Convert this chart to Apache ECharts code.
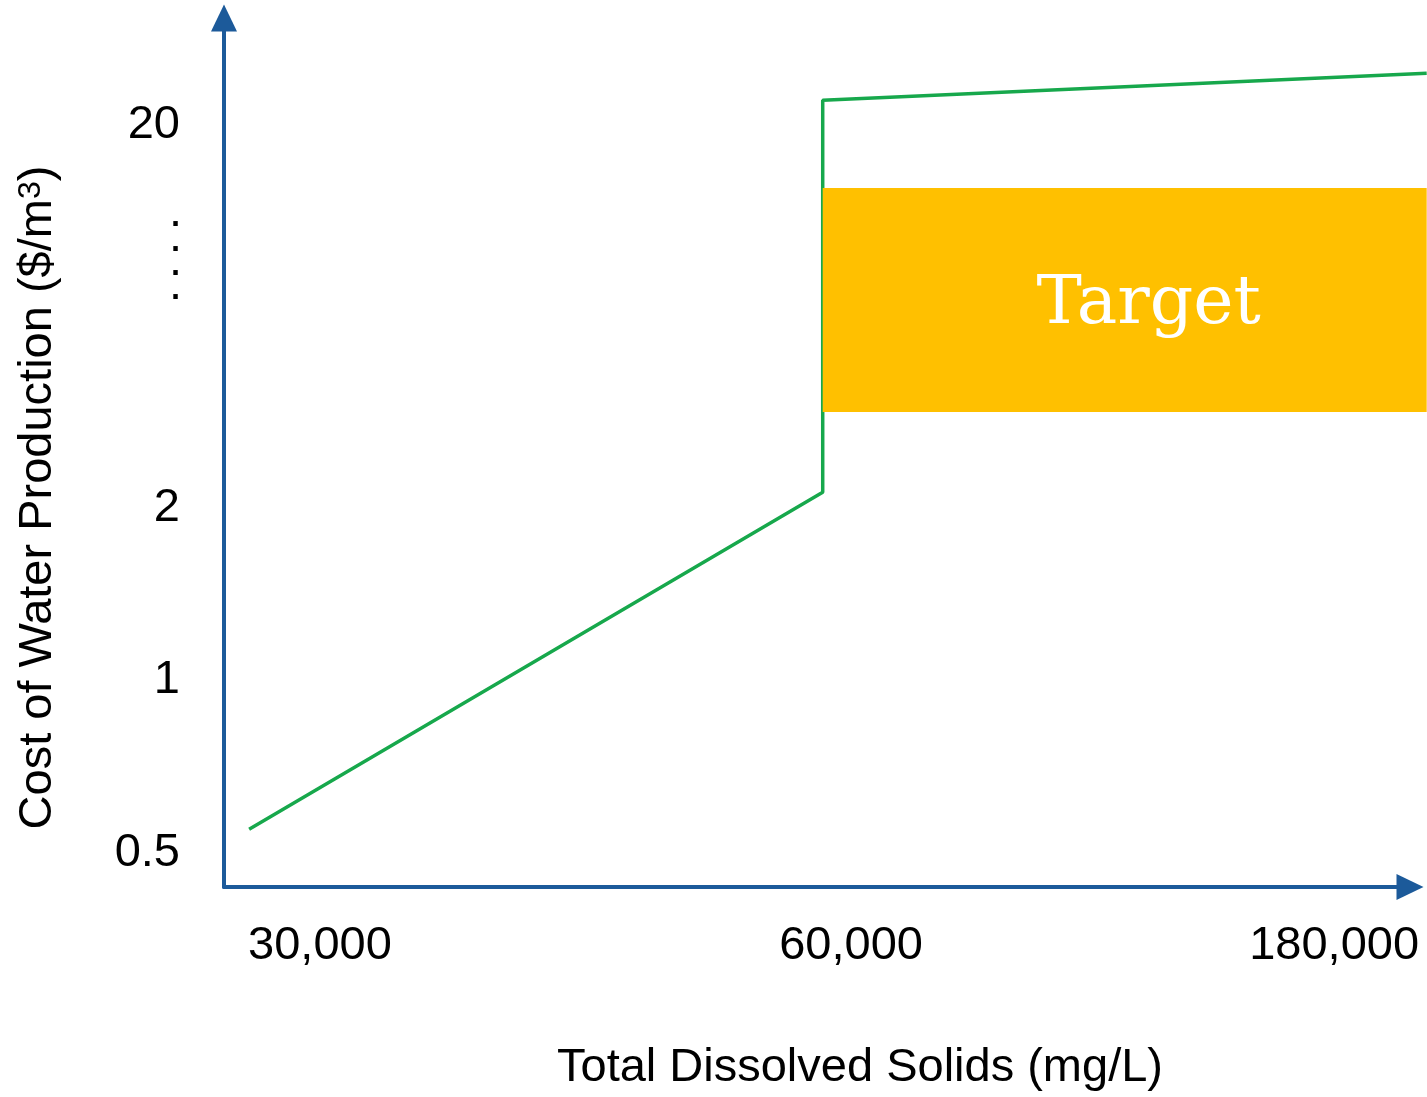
<!DOCTYPE html>
<html>
<head>
<meta charset="utf-8">
<title>Cost of Water Production vs TDS</title>
<script src="https://cdn.jsdelivr.net/npm/echarts@6/dist/echarts.min.js"></script>
<style>
  html, body { margin: 0; padding: 0; background: #fff; }
  #container { width: 1427px; height: 1097px; }
</style>
</head>
<body>
<div id="container"></div>
<script>
// tick labels of the two broken (schematic) axes
const xTicks = [30000, 60000, 180000];
const xTickLabels = ["30,000", "60,000", "180,000"];
const yTicks = [0.5, 1, 2, 20];
const yTickLabels = ["0.5", "1", "2", "20"];

// cost curve, TDS (mg/L) -> $/m3
const costTds = [26000, 58400, 58400, 203000];
const costValue = [0.55, 2.2, 23.2, 27.3];

// target band
const targetTds = [58400, 203000];
const targetCost = [3.56, 13.7];

// where each tick sits along its axis (0..100 of the axis length)
const xTickAt = [8.09, 52.87, 93.6];
const yTickAt = [3.91, 23.82, 43.61, 87.69];

const BLUE = "#1c5a9a";
const GREEN = "#17a84c";
const GOLD = "#ffc000";
const FONT = "Liberation Sans";

// piecewise interpolation between ticks, extrapolating the end segments
function piecewise(v, knots, at, f) {
  let i = 0;
  while (i < knots.length - 2 && v > knots[i + 1]) i++;
  const a = f(knots[i]), b = f(knots[i + 1]);
  return at[i] + (f(v) - a) / (b - a) * (at[i + 1] - at[i]);
}
const xPos = (v) => piecewise(v, xTicks, xTickAt, (t) => t);
const yPos = (v) => piecewise(v, yTicks, yTickAt, Math.log);

function nearestLabel(v, ticks, labels, pos) {
  let best = 0;
  ticks.forEach((t, i) => {
    if (Math.abs(pos(t) - v) < Math.abs(pos(ticks[best]) - v)) best = i;
  });
  return labels[best];
}

const dom = document.getElementById("container");
const myChart = echarts.init(dom, null, { renderer: "canvas" });

// the drawn x axis stops at the arrow, the curve and band run on to the page edge
const axisRight = 17;
const plotWidth = 1427 - 224 - axisRight;
const dataMax = 100 * (plotWidth + axisRight) / plotWidth;

const axisLine = {
  lineStyle: { color: BLUE, width: 4 },
  symbol: ["none", "triangle"],
  symbolSize: [26, 27]
};

const option = {
  animation: false,
  grid: [
    { left: 224, right: axisRight, top: 18, bottom: 210 },
    { left: 224, right: 0, top: 18, bottom: 210 }
  ],
  xAxis: [
    {
      type: "value",
      gridIndex: 0,
      min: 0,
      max: 100,
      name: "Total Dissolved Solids (mg/L)",
      nameLocation: "middle",
      nameGap: 158,
      nameTextStyle: {
        fontFamily: FONT, fontSize: 47, color: "#000",
        padding: [0, 0, 0, 86]
      },
      axisLine: axisLine,
      axisTick: { show: false },
      splitLine: { show: false },
      axisLabel: {
        customValues: xTicks.map(xPos),
        margin: 36,
        fontFamily: FONT, fontSize: 47, color: "#000",
        formatter: (v) => nearestLabel(v, xTicks, xTickLabels, xPos)
      }
    },
    {
      type: "value",
      gridIndex: 1,
      min: 0,
      max: dataMax,
      show: false
    }
  ],
  yAxis: [
    {
      type: "value",
      gridIndex: 0,
      min: 0,
      max: 100,
      name: "{t|Cost of Water Production ($/m}{s|3}{t|)}",
      nameLocation: "middle",
      nameGap: 162,
      nameTextStyle: {
        padding: [0, 90, 0, 0],
        rich: {
          t: { fontFamily: FONT, fontSize: 47, color: "#000" },
          s: { fontFamily: FONT, fontSize: 32, color: "#000", verticalAlign: "top" }
        }
      },
      axisLine: axisLine,
      axisTick: { show: false },
      splitLine: { show: false },
      axisLabel: {
        customValues: yTicks.map(yPos),
        margin: 44,
        fontFamily: FONT, fontSize: 47, color: "#000",
        formatter: (v) => nearestLabel(v, yTicks, yTickLabels, yPos)
      }
    },
    {
      type: "value",
      gridIndex: 1,
      min: 0,
      max: 100,
      show: false
    }
  ],
  graphic: [
    {
      // the break in the cost axis
      type: "text",
      left: 169,
      top: 190,
      style: {
        text: ".\n.\n.\n.",
        font: "47px " + FONT,
        lineHeight: 24.3,
        fill: "#000"
      }
    }
  ],
  series: [
    {
      type: "line",
      xAxisIndex: 1,
      yAxisIndex: 1,
      z: 2,
      symbol: "none",
      lineStyle: { color: GREEN, width: 3.5 },
      data: costTds.map((t, i) => [xPos(t), yPos(costValue[i])])
    },
    {
      type: "custom",
      xAxisIndex: 1,
      yAxisIndex: 1,
      z: 3,
      data: [[xPos(targetTds[0]), yPos(targetCost[0]), xPos(targetTds[1]), yPos(targetCost[1])]],
      renderItem: function (params, api) {
        const p1 = api.coord([api.value(0), api.value(1)]);
        const p2 = api.coord([api.value(2), api.value(3)]);
        return {
          type: "rect",
          shape: { x: p1[0], y: p2[1], width: p2[0] - p1[0], height: p1[1] - p2[1] },
          style: { fill: GOLD },
          textContent: {
            style: {
              text: "Target",
              fill: "#fff",
              font: "68px 'DejaVu Serif'"
            }
          },
          textConfig: { position: "inside", offset: [24, 5] }
        };
      }
    }
  ]
};

myChart.setOption(option);
window.addEventListener("resize", myChart.resize);
</script>
</body>
</html>
